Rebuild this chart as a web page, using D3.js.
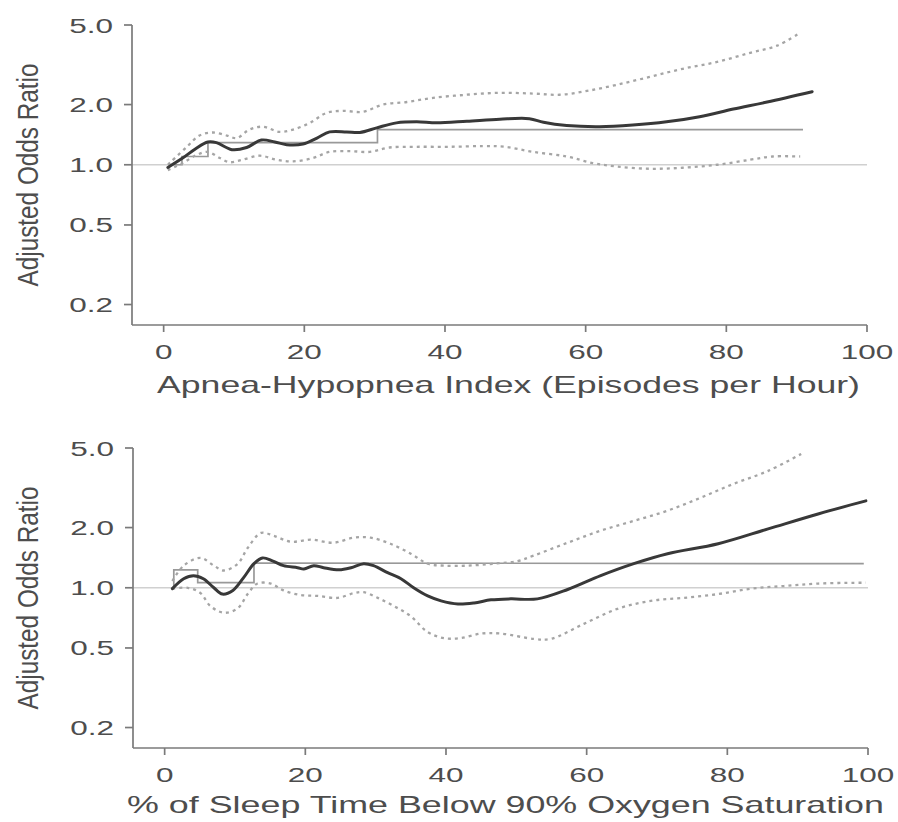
<!DOCTYPE html>
<html>
<head>
<meta charset="utf-8">
<script src="https://cdn.jsdelivr.net/npm/d3@7"></script>
<style>
  html, body { margin: 0; padding: 0; background: #fff; }
  svg { display: block; }
  text { font-family: "Liberation Sans", Arial, Helvetica, sans-serif; fill: #4d4d4d; }
</style>
</head>
<body>
<svg id="chart" width="898" height="822"></svg>
<script>
// ---------- DATA ----------
const xTicks = [0, 20, 40, 60, 80, 100];
const yTicks = [0.2, 0.5, 1.0, 2.0, 5.0];
const yTickLabels = ["0.2", "0.5", "1.0", "2.0", "5.0"];
const yTitle = "Adjusted Odds Ratio";
const xTitleTop = "Apnea-Hypopnea Index (Episodes per Hour)";
const xTitleBottom = "% of Sleep Time Below 90% Oxygen Saturation";

// Top panel: AHI
const ahiOR = [[0.6,0.97],[2.7,1.08],[4.5,1.2],[6.3,1.30],[7.5,1.29],[9.7,1.19],[11.8,1.22],[13.9,1.33],[15.8,1.30],[17.5,1.26],[19.8,1.27],[21.8,1.36],[23.6,1.46],[26,1.46],[27.9,1.45],[30.3,1.53],[33.1,1.62],[36,1.64],[38.8,1.62],[43.1,1.65],[47.8,1.69],[52,1.70],[54,1.63],[57.3,1.57],[62,1.55],[66.7,1.58],[71.5,1.64],[76.2,1.74],[81,1.90],[85.8,2.06],[92.2,2.32]];
const ahiUpper = [[0.6,1.0],[3.3,1.23],[5.1,1.40],[7,1.45],[9,1.40],[10.4,1.36],[12.2,1.50],[14.1,1.55],[16.5,1.46],[18.4,1.50],[20.8,1.62],[23.2,1.82],[25.5,1.86],[28.3,1.84],[31.2,2.0],[34.6,2.06],[38.3,2.16],[43.1,2.24],[47.8,2.29],[52.5,2.27],[56.3,2.24],[60.2,2.34],[64.4,2.51],[69.1,2.75],[73.8,3.02],[78.7,3.27],[83.4,3.63],[87.2,3.94],[90.5,4.57]];
const ahiLower = [[0.6,0.94],[2.7,1.02],[4.7,1.12],[6.3,1.16],[8,1.08],[9.4,1.03],[11.2,1.06],[13.7,1.11],[16,1.06],[18.4,1.04],[21.2,1.08],[23.6,1.16],[26.5,1.17],[29.3,1.16],[32.1,1.22],[36,1.23],[40.7,1.23],[45.4,1.24],[48.5,1.23],[52.5,1.16],[57.3,1.10],[61,1.02],[64.4,0.98],[69.1,0.955],[73.8,0.966],[78.7,1.0],[83.4,1.06],[86.6,1.10],[90.5,1.10]];
const ahiSteps = [[1,1.0],[2.6,1.0],[2.6,1.1],[6.3,1.1],[6.3,1.29],[30.4,1.29],[30.4,1.50],[90.9,1.50]];

// Bottom panel: % sleep time below 90% saturation
const satOR = [[1.1,0.99],[2.7,1.11],[4.1,1.15],[5.5,1.11],[7,1.0],[8.2,0.93],[9.7,0.97],[11.2,1.12],[12.7,1.32],[13.9,1.41],[15.4,1.36],[16.9,1.29],[18.9,1.26],[19.8,1.24],[21.2,1.29],[22.6,1.26],[24.8,1.23],[26.5,1.26],[28.3,1.32],[29.7,1.29],[31.7,1.19],[33.6,1.11],[35.4,1.0],[37.4,0.91],[39.3,0.86],[41.7,0.83],[44,0.84],[46.4,0.87],[49.2,0.88],[53,0.88],[57.3,0.98],[62,1.15],[66.7,1.32],[71.5,1.48],[78.7,1.66],[85.8,1.97],[92.9,2.34],[99.7,2.72]];
const satUpper = [[1.1,1.08],[2.7,1.29],[5.1,1.41],[7,1.29],[8.4,1.22],[10.4,1.32],[11.8,1.58],[13.7,1.88],[15.5,1.82],[17.9,1.70],[20.8,1.74],[24,1.68],[26.9,1.78],[29.3,1.78],[32.1,1.66],[35,1.48],[37.4,1.32],[39.7,1.29],[43.1,1.29],[46.8,1.32],[50.2,1.36],[52.5,1.45],[57.3,1.68],[62,1.93],[66.7,2.16],[71.5,2.43],[76.2,2.82],[80.9,3.31],[85.8,3.84],[90.5,4.67]];
const satLower = [[1.1,0.99],[3.3,1.0],[5.1,0.94],[6.5,0.81],[8.4,0.75],[10.4,0.79],[11.8,0.93],[13.2,1.05],[15.1,1.05],[16.9,0.97],[19.3,0.92],[21.8,0.91],[24.6,0.89],[26.9,0.94],[28.3,0.95],[30.3,0.89],[32.6,0.81],[35,0.72],[37.4,0.60],[39.7,0.56],[42.1,0.56],[45,0.59],[47.8,0.59],[52.5,0.555],[54.9,0.555],[59.6,0.66],[64.4,0.785],[69.1,0.86],[73.8,0.89],[78.7,0.93],[83.4,0.99],[88,1.02],[92.9,1.05],[99.7,1.06]];
const satSteps = [[1.3,1.0],[1.3,1.23],[4.7,1.23],[4.7,1.06],[12.7,1.06],[12.7,1.33],[99.4,1.32]];

const refLine = [[-4.5,1.0],[100,1.0]];

// ---------- DRAW ----------
const svg = d3.select("#chart");
svg.append("rect").attr("width", 898).attr("height", 822).attr("fill", "#fff");

const SX = 1.5; // horizontal stretch of the scanned type

function stretchedText(g, x, y, str, size, anchor) {
  return g.append("text")
    .attr("transform", `translate(${x},${y}) scale(${SX},1)`)
    .attr("text-anchor", anchor)
    .attr("font-size", size)
    .text(str);
}

function drawPanel(opt) {
  const x = d3.scaleLinear().domain([-4.5, 100]).range([opt.left, opt.right]);
  const y = d3.scaleLog().domain([0.158, 5]).range([opt.bottom, opt.top]);
  const g = svg.append("g");
  const axisColor = "#7a7a7a";

  const lineStraight = d3.line().x(d => x(d[0])).y(d => y(d[1]));
  g.append("path").attr("d", lineStraight(refLine))
    .attr("fill", "none").attr("stroke", "#d0d0d0").attr("stroke-width", 1.6);

  g.append("path").attr("d", lineStraight(opt.steps))
    .attr("fill", "none").attr("stroke", "#999").attr("stroke-width", 1.7);

  const smooth = d3.line().x(d => x(d[0])).y(d => y(d[1])).curve(d3.curveCatmullRom.alpha(0.5));
  [opt.upper, opt.lower].forEach(arr => {
    g.append("path").attr("d", smooth(arr))
      .attr("fill", "none").attr("stroke", "#a5a5a5").attr("stroke-width", 2.3)
      .attr("stroke-dasharray", "3,4");
  });
  g.append("path").attr("d", smooth(opt.est))
    .attr("fill", "none").attr("stroke", "#383838").attr("stroke-width", 3)
    .attr("stroke-linejoin", "round").attr("stroke-linecap", "round");

  g.append("line").attr("x1", opt.left).attr("x2", opt.left)
    .attr("y1", y(5)).attr("y2", opt.bottom)
    .attr("stroke", axisColor).attr("stroke-width", 1.7);
  g.append("line").attr("x1", opt.left).attr("x2", x(100))
    .attr("y1", opt.bottom).attr("y2", opt.bottom)
    .attr("stroke", axisColor).attr("stroke-width", 1.7);

  yTicks.forEach((t, i) => {
    g.append("line").attr("x1", opt.left - 8).attr("x2", opt.left)
      .attr("y1", y(t)).attr("y2", y(t))
      .attr("stroke", axisColor).attr("stroke-width", 1.7);
    stretchedText(g, opt.left - 19, y(t) + 7.5, yTickLabels[i], 21, "end");
  });
  xTicks.forEach(t => {
    g.append("line").attr("x1", x(t)).attr("x2", x(t))
      .attr("y1", opt.bottom).attr("y2", opt.bottom + 7)
      .attr("stroke", axisColor).attr("stroke-width", 1.7);
    stretchedText(g, x(t), opt.bottom + 34, String(t), 21, "middle");
  });

  const yMid = (y(5) + opt.bottom) / 2;
  g.append("text")
    .attr("transform", `translate(38,${yMid}) scale(1.45,1) rotate(-90)`)
    .attr("text-anchor", "middle")
    .attr("font-size", 20)
    .attr("textLength", 223).attr("lengthAdjust", "spacingAndGlyphs")
    .text(yTitle);

  g.append("text")
    .attr("transform", `translate(${opt.titleX},${opt.bottom + opt.titleDy}) scale(1.3,1)`)
    .attr("font-size", 23)
    .attr("textLength", opt.titleLen / 1.3).attr("lengthAdjust", "spacingAndGlyphs")
    .text(opt.title);
}

drawPanel({ left: 132, right: 867, top: 25, bottom: 325,
  est: ahiOR, upper: ahiUpper, lower: ahiLower, steps: ahiSteps,
  title: xTitleTop, titleX: 157, titleLen: 703, titleDy: 68 });
drawPanel({ left: 133, right: 868, top: 448, bottom: 748,
  est: satOR, upper: satUpper, lower: satLower, steps: satSteps,
  title: xTitleBottom, titleX: 127, titleLen: 757, titleDy: 65 });
</script>
</body>
</html>
